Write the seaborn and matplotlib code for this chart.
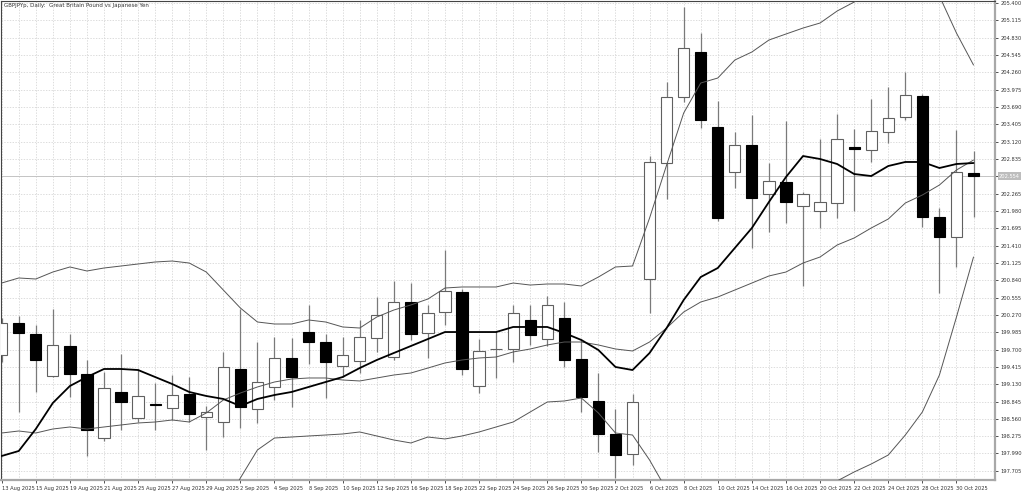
import matplotlib
matplotlib.use("Agg")
import numpy as np
import pandas as pd
import matplotlib.pyplot as plt
import seaborn as sns

# GBPJPY daily candles, 13 Aug 2025 .. 31 Oct 2025
DATES = [
    "13 Aug 2025", "14 Aug 2025", "15 Aug 2025", "18 Aug 2025", "19 Aug 2025", "20 Aug 2025",
    "21 Aug 2025", "22 Aug 2025", "25 Aug 2025", "26 Aug 2025", "27 Aug 2025", "28 Aug 2025",
    "29 Aug 2025", "1 Sep 2025", "2 Sep 2025", "3 Sep 2025", "4 Sep 2025", "5 Sep 2025",
    "8 Sep 2025", "9 Sep 2025", "10 Sep 2025", "11 Sep 2025", "12 Sep 2025", "15 Sep 2025",
    "16 Sep 2025", "17 Sep 2025", "18 Sep 2025", "19 Sep 2025", "22 Sep 2025", "23 Sep 2025",
    "24 Sep 2025", "25 Sep 2025", "26 Sep 2025", "29 Sep 2025", "30 Sep 2025", "1 Oct 2025",
    "2 Oct 2025", "3 Oct 2025", "6 Oct 2025", "7 Oct 2025", "8 Oct 2025", "9 Oct 2025",
    "10 Oct 2025", "13 Oct 2025", "14 Oct 2025", "15 Oct 2025", "16 Oct 2025", "17 Oct 2025",
    "20 Oct 2025", "21 Oct 2025", "22 Oct 2025", "23 Oct 2025", "24 Oct 2025", "27 Oct 2025",
    "28 Oct 2025", "29 Oct 2025", "30 Oct 2025", "31 Oct 2025",
]

OPEN = [199.610, 200.137, 199.956, 199.265, 199.758, 199.298, 198.245, 199.002, 198.574, 198.804,
        198.739, 198.969, 198.591, 198.508, 199.380, 198.722, 199.084, 199.561, 199.989, 199.824,
        199.429, 199.512, 199.890, 199.577, 200.482, 199.972, 200.318, 200.646, 199.100, 199.709,
        199.709, 200.186, 199.873, 200.219, 199.545, 198.854, 198.311, 197.982, 200.860, 202.768,
        203.854, 204.594, 203.360, 202.620, 203.064, 202.258, 202.456, 202.061, 201.979, 202.110,
        203.031, 202.982, 203.278, 203.525, 203.870, 201.880, 201.551, 202.604]
HIGH = [200.219, 200.252, 200.104, 200.367, 199.956, 199.528, 199.331, 199.627, 199.380, 199.150,
        199.281, 199.248, 198.772, 199.660, 200.367, 199.824, 199.906, 199.890, 200.433, 199.956,
        199.906, 200.186, 200.564, 200.827, 200.794, 200.433, 201.337, 200.696, 199.873, 200.005,
        200.433, 200.433, 200.581, 200.482, 199.857, 199.314, 198.722, 198.969, 202.883, 204.100,
        205.334, 204.906, 203.788, 203.278, 203.558, 202.768, 203.459, 202.291, 203.163, 203.574,
        203.327, 203.821, 204.018, 204.265, 203.903, 202.028, 203.311, 202.966]
LOW = [199.495, 198.673, 199.002, 199.249, 198.920, 197.949, 198.196, 198.377, 198.508, 198.377,
       198.541, 198.508, 198.048, 198.262, 198.410, 198.492, 198.870, 198.755, 199.462, 198.903,
       199.248, 199.314, 199.660, 199.528, 199.857, 199.561, 200.104, 199.281, 198.985, 199.232,
       199.495, 199.775, 199.758, 199.413, 198.673, 198.015, 197.587, 197.801, 200.301, 202.176,
       203.771, 203.344, 201.814, 202.357, 201.370, 201.633, 201.781, 200.745, 201.699, 201.864,
       201.979, 202.785, 203.097, 203.475, 201.716, 200.630, 201.058, 201.880]
CLOSE = [200.137, 199.972, 199.528, 199.775, 199.298, 198.377, 199.068, 198.837, 198.936, 198.788,
         198.952, 198.640, 198.673, 199.413, 198.755, 199.166, 199.561, 199.248, 199.824, 199.495,
         199.610, 199.906, 200.268, 200.482, 199.956, 200.301, 200.663, 199.380, 199.676, 199.709,
         200.301, 199.939, 200.433, 199.528, 198.920, 198.311, 197.966, 198.837, 202.785, 203.854,
         204.660, 203.475, 201.864, 203.064, 202.192, 202.472, 202.127, 202.258, 202.127, 203.163,
         202.998, 203.294, 203.508, 203.887, 201.880, 201.551, 202.620, 202.554]

# indicator lines (bands run past the visible area)
MA_FAST = [197.949, 198.031, 198.393, 198.821, 199.100, 199.248, 199.380, 199.380, 199.363, 199.248,
           199.133, 199.002, 198.936, 198.887, 198.771, 198.887, 198.952, 199.002, 199.084, 199.166,
           199.248, 199.396, 199.528, 199.643, 199.758, 199.873, 199.988, 199.988, 199.988, 199.988,
           200.071, 200.071, 200.071, 199.972, 199.857, 199.692, 199.413, 199.363, 199.643, 200.054,
           200.515, 200.893, 201.041, 201.370, 201.699, 202.127, 202.538, 202.883, 202.834, 202.752,
           202.587, 202.554, 202.719, 202.785, 202.785, 202.686, 202.752, 202.768]
BB_MID = [198.327, 198.360, 198.327, 198.393, 198.426, 198.393, 198.426, 198.459, 198.492, 198.508,
          198.541, 198.508, 198.656, 198.870, 198.985, 199.084, 199.166, 199.215, 199.232, 199.232,
          199.199, 199.183, 199.232, 199.281, 199.314, 199.396, 199.479, 199.528, 199.561, 199.577,
          199.660, 199.709, 199.775, 199.824, 199.824, 199.775, 199.709, 199.676, 199.824, 200.054,
          200.317, 200.482, 200.564, 200.679, 200.794, 200.910, 200.975, 201.123, 201.222, 201.419,
          201.535, 201.699, 201.847, 202.110, 202.242, 202.406, 202.653, 202.817]
BB_UP = [200.794, 200.877, 200.860, 200.975, 201.058, 200.992, 201.041, 201.074, 201.107, 201.140,
         201.156, 201.123, 200.975, 200.679, 200.383, 200.153, 200.120, 200.120, 200.186, 200.153,
         200.071, 200.054, 200.235, 200.350, 200.433, 200.531, 200.712, 200.729, 200.729, 200.729,
         200.794, 200.761, 200.778, 200.778, 200.745, 200.893, 201.058, 201.074, 201.863, 202.735,
         203.590, 204.084, 204.166, 204.462, 204.594, 204.791, 204.890, 204.988, 205.071, 205.268,
         205.416, 205.581, 205.712, 205.844, 205.778, 205.515, 204.906, 204.380]
BB_LOW = [195.860, 195.844, 195.811, 195.811, 195.794, 195.794, 195.811, 195.844, 195.877, 195.877,
          195.926, 195.893, 196.337, 197.061, 197.587, 198.048, 198.245, 198.261, 198.278, 198.294,
          198.311, 198.344, 198.278, 198.212, 198.163, 198.261, 198.229, 198.278, 198.344, 198.426,
          198.508, 198.673, 198.837, 198.854, 198.903, 198.656, 198.327, 198.294, 197.883, 197.390,
          197.044, 196.880, 196.962, 196.896, 196.995, 197.028, 197.061, 197.258, 197.373, 197.538,
          197.686, 197.817, 197.965, 198.294, 198.673, 199.281, 200.235, 201.222]

PRICE_TICKS = [205.400, 205.115, 204.830, 204.545, 204.260, 203.975, 203.690, 203.405, 203.120,
               202.835, 202.550, 202.265, 201.980, 201.695, 201.410, 201.125, 200.840, 200.555,
               200.270, 199.985, 199.700, 199.415, 199.130, 198.845, 198.560, 198.275, 197.990,
               197.705]

TITLE = "GBPJPYp, Daily:  Great Britain Pound vs Japanese Yen"


def main():
    sns.set_theme(style="white")
    plt.rcParams["font.family"] = ["DejaVu Sans"]

    df = pd.DataFrame({
        "date": DATES, "open": OPEN, "high": HIGH, "low": LOW, "close": CLOSE,
        "ma": MA_FAST, "mid": BB_MID, "up": BB_UP, "low_band": BB_LOW,
    })
    df["i"] = np.arange(len(df))

    fig = plt.figure(figsize=(10.24, 4.92), dpi=100)
    ax = fig.add_axes([1 / 1024, 12 / 492, 994 / 1024, 479 / 492])

    # candles
    up = df["close"] >= df["open"]
    ax.vlines(df["i"], df["low"], df["high"], color="#7a7a7a", lw=0.9, zorder=2)
    body_lo = np.minimum(df["open"], df["close"])
    body_h = (df["close"] - df["open"]).abs()
    ax.bar(df["i"][up], body_h[up], bottom=body_lo[up], width=0.66,
           color="white", edgecolor="#606060", lw=0.8, zorder=3)
    ax.bar(df["i"][~up], body_h[~up], bottom=body_lo[~up], width=0.66,
           color="black", edgecolor="black", lw=0.8, zorder=3)

    # indicator lines on top
    sns.lineplot(data=df, x="i", y="mid", color="#555555", lw=0.7, ax=ax, zorder=4)
    sns.lineplot(data=df, x="i", y="up", color="#555555", lw=0.7, ax=ax, zorder=4)
    sns.lineplot(data=df, x="i", y="low_band", color="#555555", lw=0.7, ax=ax, zorder=4)
    sns.lineplot(data=df, x="i", y="ma", color="black", lw=1.3, ax=ax, zorder=5)

    # last price line
    last = CLOSE[-1]
    ax.axhline(last, color="#c4c4c4", lw=0.7, zorder=1)

    ax.set_xlim(-0.04, 58.26)
    ax.set_ylim(197.554, 205.433)

    # axes / ticks
    ax.yaxis.tick_right()
    ax.set_yticks(PRICE_TICKS)
    ax.set_yticklabels([f"{v:.3f}" for v in PRICE_TICKS])
    ax.set_xticks(range(0, len(DATES), 2))
    ax.set_xticklabels(DATES[::2], ha="left")
    ax.set_xticks(range(len(DATES)), minor=True)
    ax.tick_params(axis="both", which="major", labelsize=3.7, colors="#333333",
                   length=2.5, width=0.6, pad=1.5, direction="out")
    ax.tick_params(axis="x", which="minor", length=0)
    ax.tick_params(axis="y", right=True, left=False)
    ax.tick_params(axis="x", bottom=True)
    ax.set_xlabel("")
    ax.set_ylabel("")

    ax.grid(True, which="both", axis="x", color="#cfcfcf", lw=0.5, ls=(0, (2, 2)), zorder=0)
    ax.grid(True, which="major", axis="y", color="#cfcfcf", lw=0.5, ls=(0, (2, 2)), zorder=0)
    ax.set_axisbelow(True)

    for side in ["left", "top"]:
        ax.spines[side].set_color("#444444")
        ax.spines[side].set_linewidth(0.8)
    for side in ["right", "bottom"]:
        ax.spines[side].set_color("#a8a8a8")
        ax.spines[side].set_linewidth(1.6)

    # price label on the right axis
    ax.text(1.004, last, f"{last:.3f}", transform=ax.get_yaxis_transform(),
            fontsize=3.7, color="white", va="center", ha="left", zorder=6, clip_on=False,
            bbox=dict(boxstyle="square,pad=0.25", fc="#bdbdbd", ec="none"))

    ax.text(0.003, 0.996, TITLE, transform=ax.transAxes, fontsize=4.0,
            color="#333333", va="top", ha="left")

    fig.savefig("out.png", dpi=100)


if __name__ == "__main__":
    main()
